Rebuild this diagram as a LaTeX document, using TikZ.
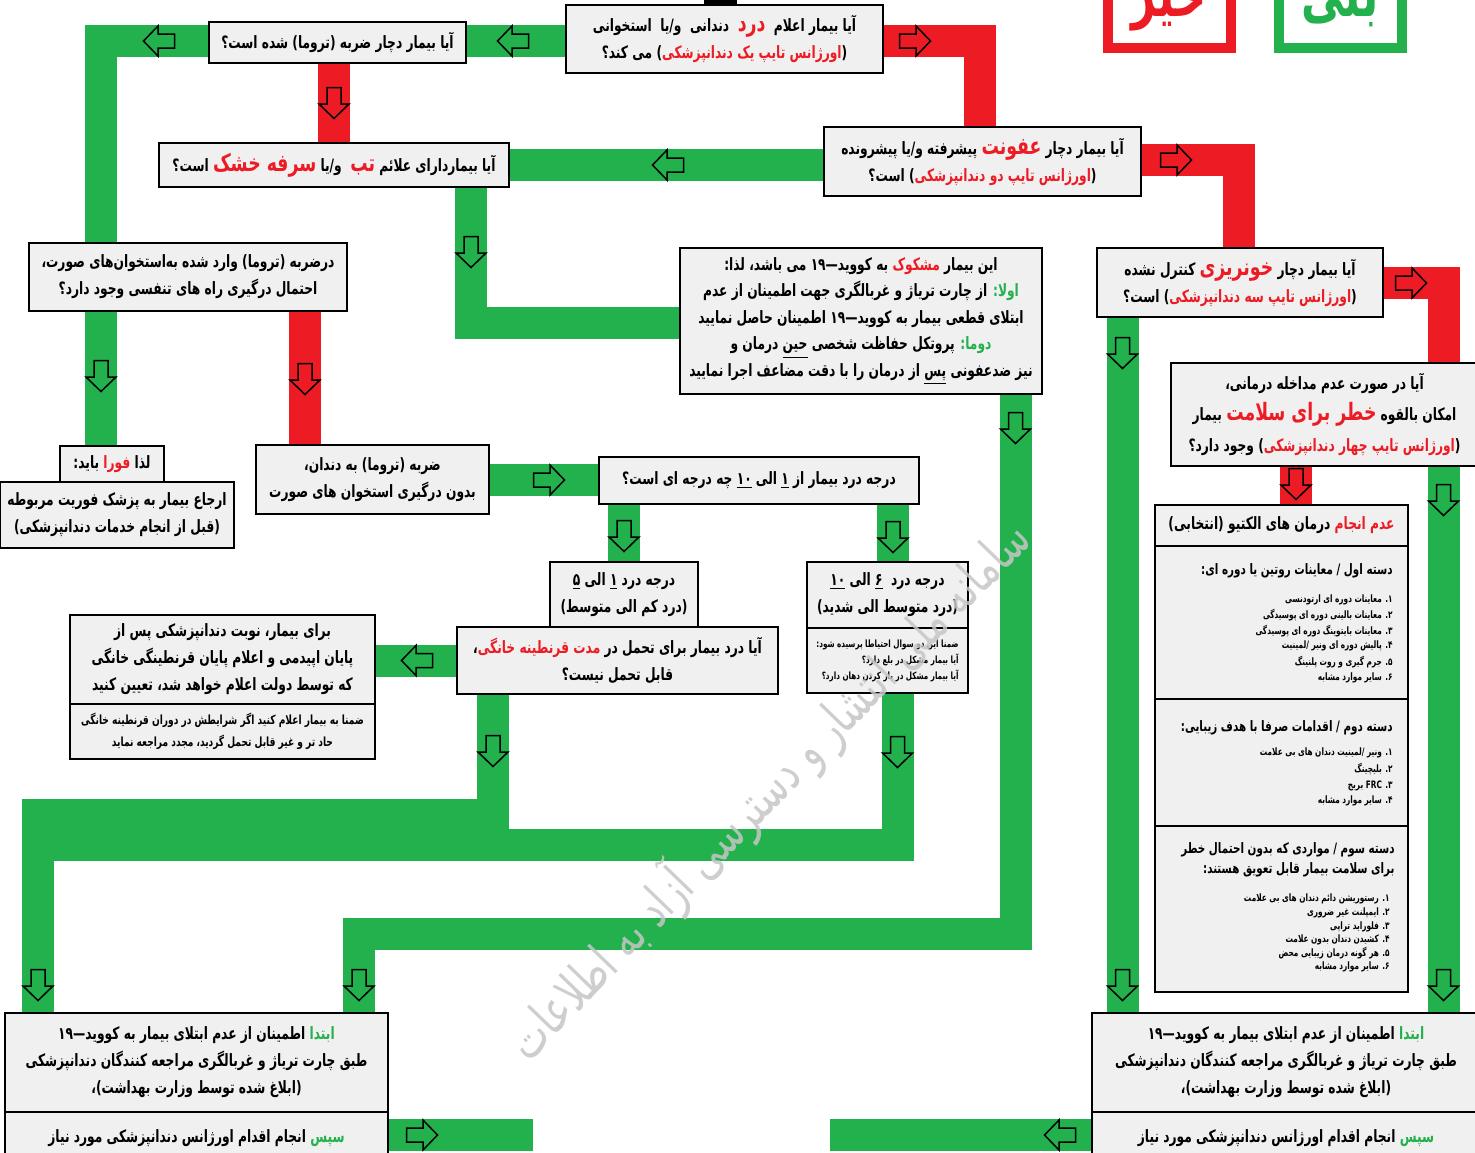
\documentclass[tikz,border=0pt]{standalone}
\usepackage{fontspec}
\usetikzlibrary{backgrounds}
\TeXXeTstate=1
\newfontfamily\fa[Script=Arabic,FakeStretch=0.72]{DejaVu Sans}
\definecolor{bg}{HTML}{22B14C}
\definecolor{br}{HTML}{ED1C24}
\definecolor{bx}{HTML}{F0F0F0}
\newcommand\rl[1]{\beginR#1\endR}
\newcommand\rd[1]{{\addfontfeatures{Color=ED1C24}#1}}
\newcommand\gr[1]{{\addfontfeatures{Color=22B14C}#1}}
\newcommand\rdL[1]{{\fontsize{12}{13}\selectfont\addfontfeatures{Color=ED1C24}#1}}
\newcommand\ul[1]{\underline{#1}}
\tikzset{
  box/.style={draw=black,line width=1pt,fill=bx,inner sep=1pt,align=center,
    font=\fa\bfseries\fontsize{8.5}{13.5}\selectfont},
  small/.style={font=\fa\bfseries\fontsize{6.3}{11}\selectfont},
  tiny/.style={font=\fa\bfseries\fontsize{5}{8}\selectfont},
  item/.style={inner sep=0pt,font=\fa\bfseries\fontsize{5.1}{7}\selectfont},
  head/.style={inner sep=0pt,align=right,font=\fa\bfseries\fontsize{7.2}{10}\selectfont},
  gband/.style={draw=bg,line width=16pt},
  rband/.style={draw=br,line width=16pt},
  arr/.pic={\draw[black,line width=0.75pt,fill=#1] (-15.5,-7) -- (1,-7) -- (1,-15) -- (15.5,0) -- (1,15) -- (1,7) -- (-15.5,7) -- cycle;}
}
\newcommand\bx[7][]{\node[box,minimum width={(#5-#3)*0.5pt},minimum height={(#6-#4)*0.5pt},#1] (#2) at ({(#3+#5)/2},{(#4+#6)/2}) {#7};}
\begin{document}
\begin{tikzpicture}[x=0.5pt,y=-0.5pt]
\useasboundingbox (0,0) rectangle (1475,1152);
\begin{scope}[on background layer]\fill[white] (0,0) rectangle (1475,1152);\end{scope}

% legend
\draw[br,line width=5pt] (1107.5,-20) rectangle (1230.5,47.5);
\draw[bg,line width=5pt] (1278.5,-20) rectangle (1401.5,47.5);
\node[font=\fa\bfseries\fontsize{30}{30}\selectfont,text=br,anchor=base] (no) at (1169,16) {\rl{خیر}};
\node[font=\fa\bfseries\fontsize{30}{30}\selectfont,text=bg,anchor=base] (yes) at (1340,16) {\rl{بلی}};
\fill[black] (704,-5) rectangle (737,5);

% boxes
\bx{b1}{566}{5}{883}{73}{\rl{آیا بیمار اعلام \ \rdL{درد} \ دندانی \ و/یا \ استخوانی}\\\rl{(\rd{اورژانس تایپ یک دندانپزشکی}) می کند؟}}
\bx{b2}{209}{22}{466}{63}{\rl{آیا بیمار دچار ضربه (تروما) شده است؟}}
\bx{b3}{159}{143}{509}{187}{\rl{آیا بیماردارای علائم \rdL{تب} \ و/یا \rdL{سرفه خشک} است؟}}
\bx{b4}{824}{127}{1141}{196}{\rl{آیا بیمار دچار \rdL{عفونت} پیشرفته و/یا پیشرونده}\\\rl{(\rd{اورژانس تایپ دو دندانپزشکی}) است؟}}
\bx{b5}{29}{243}{347}{311}{\rl{درضربه (تروما) وارد شده به‌استخوان‌های صورت،}\\\rl{احتمال درگیری راه های تنفسی وجود دارد؟}}
\bx[font=\fa\bfseries\fontsize{8.5}{13.3}\selectfont]{b6}{680}{248}{1042}{394}{\rl{این بیمار \rd{مشکوک} به کووید—۱۹ می باشد، لذا:}\\\rl{\gr{اولا:} از چارت تریاژ و غربالگری جهت اطمینان از عدم}\\\rl{ابتلای قطعی بیمار به کووید—۱۹ اطمینان حاصل نمایید}\\\rl{\gr{دوما:} پروتکل حفاظت شخصی \ul{حین} درمان و}\\\rl{نیز ضدعفونی \ul{پس} از درمان را با دقت مضاعف اجرا نمایید}}
\bx{b7}{1097}{248}{1383}{317}{\rl{آیا بیمار دچار \rdL{خونریزی} کنترل نشده}\\\rl{(\rd{اورژانس تایپ سه دندانپزشکی}) است؟}}
\bx[font=\fa\bfseries\fontsize{8.5}{15.5}\selectfont]{b8}{1171}{363}{1478}{466}{\rl{آیا در صورت عدم مداخله درمانی،}\\\rl{امکان بالقوه \rdL{خطر برای سلامت} بیمار}\\\rl{(\rd{اورژانس تایپ چهار دندانپزشکی}) وجود دارد؟}}
\bx{b9a}{60}{446}{164}{482}{\rl{لذا \rd{فورا} باید:}}
\bx{b9b}{0}{482}{234}{548}{\rl{ارجاع بیمار به پزشک فوریت مربوطه}\\\rl{(قبل از انجام خدمات دندانپزشکی)}}
\bx{b10}{256}{445}{489}{514}{\rl{ضربه (تروما) به دندان،}\\\rl{بدون درگیری استخوان های صورت}}
\bx{b11}{599}{457}{919}{504}{\rl{درجه درد بیمار از \ul{۱} الی \ul{۱۰} چه درجه ای است؟}}
\bx{b12}{550}{562}{698}{627}{\rl{درجه درد \ul{۱} الی \ul{۵}}\\\rl{(درد کم الی متوسط)}}
\bx{b13}{457}{627}{778}{694}{\rl{آیا درد بیمار برای تحمل در \rd{مدت قرنطینه خانگی}،}\\\rl{قابل تحمل نیست؟}}
\bx{b14a}{807}{562}{968}{628}{\rl{درجه درد \ \ul{۶} الی \ul{۱۰}}\\\rl{(درد متوسط الی شدید)}}
\bx[tiny,align=right]{b14b}{807}{628}{968}{693}{\rl{ضمنا این دو سوال احتیاطا پرسیده شود:}\\\rl{آیا بیمار مشکل در بلع دارد؟}\\\rl{آیا بیمار مشکل در باز کردن دهان دارد؟}}
\bx{b15a}{70}{615}{375}{704}{\rl{برای بیمار، نوبت دندانپزشکی پس از}\\\rl{پایان اپیدمی و اعلام پایان قرنطینگی خانگی}\\\rl{که توسط دولت اعلام خواهد شد، تعیین کنید}}
\bx[small]{b15b}{70}{704}{375}{759}{\rl{ضمنا به بیمار اعلام کنید اگر شرایطش در دوران قرنطینه خانگی}\\\rl{حاد تر و غیر قابل تحمل گردید، مجدد مراجعه نماید}}
\bx{b16h}{1155}{505}{1408}{546}{\rl{\rd{عدم انجام} درمان های الکتیو (انتخابی)}}
\bx{b16s1}{1155}{546}{1408}{699}{}
\bx{b16s2}{1155}{699}{1408}{826}{}
\bx{b16s3}{1155}{826}{1408}{992}{}
\bx{b17a}{5}{1013}{388}{1112}{\rl{\gr{ابتدا} اطمینان از عدم ابتلای بیمار به کووید—۱۹}\\\rl{طبق چارت تریاژ و غربالگری مراجعه کنندگان دندانپزشکی}\\\rl{(ابلاغ شده توسط وزارت بهداشت)،}}
\bx{b17b}{5}{1112}{388}{1165}{\rl{\gr{سپس} انجام اقدام اورژانس دندانپزشکی مورد نیاز}}
\bx{b18a}{1092}{1013}{1480}{1112}{\rl{\gr{ابتدا} اطمینان از عدم ابتلای بیمار به کووید—۱۹}\\\rl{طبق چارت تریاژ و غربالگری مراجعه کنندگان دندانپزشکی}\\\rl{(ابلاغ شده توسط وزارت بهداشت)،}}
\bx{b18b}{1092}{1112}{1480}{1165}{\rl{\gr{سپس} انجام اقدام اورژانس دندانپزشکی مورد نیاز}}

% B16 contents
\node[head,anchor=east] (h1) at (1393,571) {\rl{دسته اول / معاینات روتین یا دوره ای:}};
\node[head,anchor=east] (h2) at (1393,728) {\rl{دسته دوم / اقدامات صرفا با هدف زیبایی:}};
\node[head,anchor=north east] (h3) at (1395,842) {\rl{دسته سوم / مواردی که بدون احتمال خطر}\\\rl{برای سلامت بیمار قابل تعویق هستند:}};
\foreach \yy/\q [count=\i] in {600/{۱\kern0pt. معاینات دوره ای ارتودنسی},615/{۲\kern0pt. معاینات بالینی دوره ای پوسیدگی},631/{۳\kern0pt. معاینات بایتوینگ دوره ای پوسیدگی},646/{۴\kern0pt. پالیش دوره ای ونیر /لمینیت},662/{۵\kern0pt. جرم گیری و روت پلنینگ},678/{۶\kern0pt. سایر موارد مشابه}}
  \node[item,anchor=east] (ia\i) at (1393,\yy) {\rl{\q}};
\foreach \yy/\q [count=\i] in {753/{۱\kern0pt. ونیر /لمینیت دندان های بی علامت},769/{۲\kern0pt. بلیچینگ},786/{۳\kern0pt. FRC بریج},801/{۴\kern0pt. سایر موارد مشابه}}
  \node[item,anchor=east] (ib\i) at (1393,\yy) {\rl{\q}};
\foreach \yy/\q [count=\i] in {899/{۱\kern0pt. رستوریشن دائم دندان های بی علامت},913/{۲\kern0pt. ایمپلنت غیر ضروری},927/{۳\kern0pt. فلوراید تراپی},940/{۴\kern0pt. کشیدن دندان بدون علامت},953/{۵\kern0pt. هر گونه درمان زیبایی محض},967/{۶\kern0pt. سایر موارد مشابه}}
  \node[item,anchor=east] (ic\i) at (1390,\yy) {\rl{\q}};

% connectors
\coordinate (cA) at (0,41);
\coordinate (cL) at (101,0);
\coordinate (cR1) at (334,0);
\coordinate (cR2) at (305,0);
\coordinate (cR3) at (980,0);
\coordinate (cB) at (0,165);
\coordinate (cC) at (0,160);
\coordinate (cR4) at (1239,0);
\coordinate (cG1) at (471,0);
\coordinate (cD) at (0,322.5);
\coordinate (cG2) at (1015.5,0);
\coordinate (cE) at (359,934);
\coordinate (cG3) at (1122.5,0);
\coordinate (cF) at (0,283);
\coordinate (cG4) at (1443.5,0);
\coordinate (cR5) at (1296,0);
\coordinate (cH) at (0,480);
\coordinate (cG5) at (624,0);
\coordinate (cG6) at (893,0);
\coordinate (cI) at (0,660.5);
\coordinate (cG7) at (493,0);
\coordinate (cJ) at (38,815);
\coordinate (cG8) at (897.5,0);
\coordinate (cK) at (38,845);
\coordinate (cM) at (0,1135);
\coordinate (cN) at (533,1135);
\coordinate (cO) at (830,1135);
\begin{scope}[on background layer]
\draw[gband] (b1.west |- cA) -- (b2.east |- cA);
\draw[gband] (b2.west |- cA) -| (b5.north -| cL);
\draw[gband] (b5.south -| cL) -- (b9a.north -| cL);
\draw[rband] (b2.south -| cR1) -- (b3.north -| cR1);
\draw[rband] (b5.south -| cR2) -- (b10.north -| cR2);
\draw[rband] (b1.east |- cA) -| (b4.north -| cR3);
\draw[gband] (b4.west |- cB) -- (b3.east |- cB);
\draw[rband] (b4.east |- cC) -| (b7.north -| cR4);
\draw[gband] (b3.south -| cG1) |- (b6.west |- cD);
\draw[gband] (b6.south -| cG2) |- (cE) -- (b17a.north -| cE);
\draw[gband] (b7.south -| cG3) -- (b18a.north -| cG3);
\draw[rband] (b7.east |- cF) -| (b8.north -| cG4);
\draw[gband] (b8.south -| cG4) -- (b18a.north -| cG4);
\draw[rband] (b8.south -| cR5) -- (b16h.north -| cR5);
\draw[gband] (b10.east |- cH) -- (b11.west |- cH);
\draw[gband] (b11.south -| cG5) -- (b12.north -| cG5);
\draw[gband] (b11.south -| cG6) -- (b14a.north -| cG6);
\draw[gband] (b13.west |- cI) -- (b15a.east |- cI);
\draw[gband] (b13.south -| cG7) |- (cJ) -- (b17a.north -| cJ);
\draw[gband] (b14b.south -| cG8) |- (cK);
\draw[gband] (b17b.east |- cM) -- (cN);
\draw[gband] (b18b.west |- cM) -- (cO);
\end{scope}

% arrows
\foreach \ax/\ay/\ar/\ac in {513/41/180/bg,159/41/180/bg,334/103/-90/br,915/41/0/br,668/165/180/bg,1176/160/0/br,471/252/-90/bg,101/376/-90/bg,305/379/-90/br,1015.5/428/-90/bg,1122.5/353/-90/bg,1411/283/0/br,1296/484/-90/br,1443.5/500/-90/bg,549/480/0/bg,624/536/-90/bg,893/537/-90/bg,417/660.5/180/bg,493/751/-90/bg,897.5/752/-90/bg,38/985/-90/bg,359/985/-90/bg,1122.5/985/-90/bg,1443.5/985/-90/bg,422/1135/0/bg,1060/1135/180/bg}
  \pic[rotate=\ar] at (\ax,\ay) {arr=\ac};

% watermark
\node[rotate=46,text=gray!45,opacity=0.85,font=\fa\fontsize{26}{26}\selectfont] (wm) at (768,790) {\rl{سامانه ملی انتشار و دسترسی آزاد به اطلاعات}};
\end{tikzpicture}
\end{document}
